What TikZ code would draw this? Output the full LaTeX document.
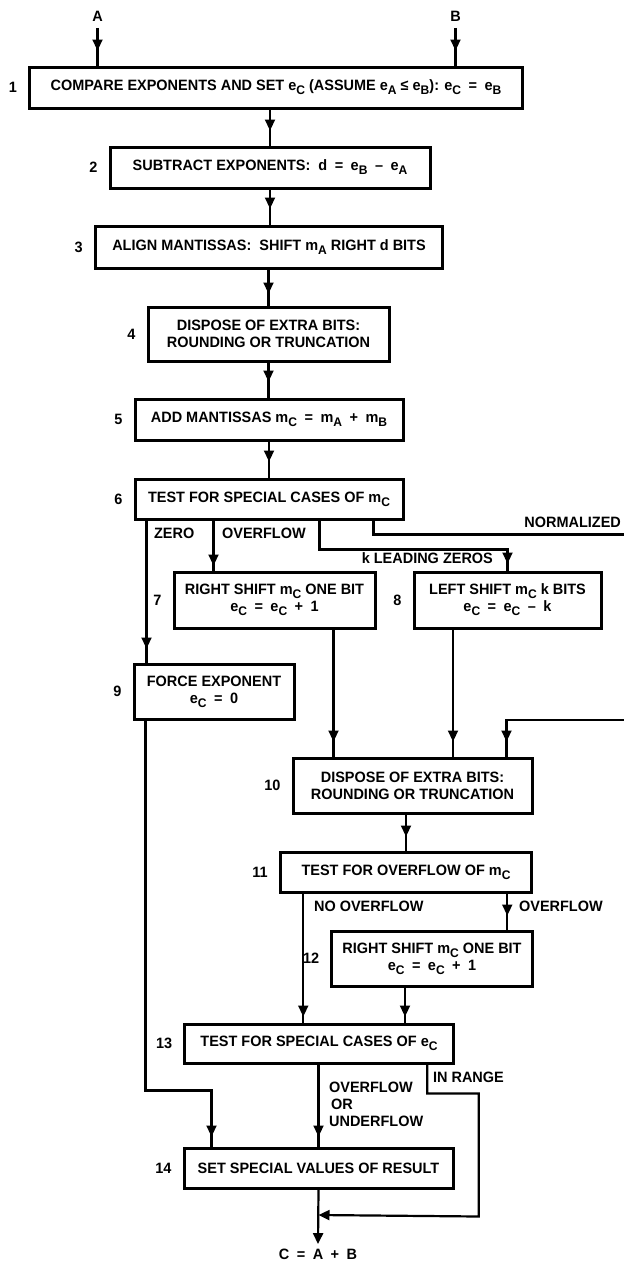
\documentclass[tikz,border=0pt]{standalone}
\usepackage{fontspec}
\setmainfont{Liberation Sans}[FakeStretch=0.965]
\usetikzlibrary{arrows.meta,decorations.markings,positioning}
\def\px{1pt}
\newcommand{\lowx}[1]{\raisebox{-4pt}{\fontsize{12.5}{12.5}\selectfont #1}}
\tikzset{
     stepbox/.style={draw, line width=3pt, align=center, inner sep=0pt},
     num/.style={inner sep=0pt, label distance=10pt},
     tag/.style={inner sep=0pt},
     io/.style={inner sep=5.6pt},
     flow/.style={draw, postaction={decorate},
        decoration={markings, mark=at position -#1 with {\arrow{Triangle[length=11pt,width=10pt]}}}},
     flow/.default=14pt,
     tipend/.style={draw, -{Triangle[length=11pt,width=10pt]}},
}

\begin{document}
\begin{tikzpicture}[x=\px, y=-\px, font=\bfseries\fontsize{15}{17}\selectfont, line width=2.2pt]
\useasboundingbox (0,0) rectangle (624,1262);
\clip (0,0) rectangle (624,1262);

%% inputs
\node[io] (inA) at (97.5,16) {A};
\node[io] (inB) at (455.5,16) {B};

%% steps
\node[stepbox, minimum width=493*\px, minimum height=41*\px, label={[num]left:1}] (s1) at (276,87.5)
   {COMPARE EXPONENTS AND SET e\lowx{C} (ASSUME e\lowx{A} ≤ e\lowx{B}): e\lowx{C}\enspace=\enspace e\lowx{B}};
\node[stepbox, minimum width=320*\px, minimum height=41*\px, label={[num]left:2}] (s2) at (270,167.5)
   {SUBTRACT EXPONENTS:~~d\enspace=\enspace e\lowx{B}\enspace–\enspace e\lowx{A}};
\node[stepbox, minimum width=347.5*\px, minimum height=42*\px, label={[num]left:3}] (s3) at (269,247)
   {ALIGN MANTISSAS:~~SHIFT m\lowx{A} RIGHT d BITS};
\node[stepbox, minimum width=241*\px, minimum height=54*\px, label={[num]left:4}] (s4) at (268.5,334)
   {DISPOSE OF EXTRA BITS:\\ROUNDING OR TRUNCATION};
\node[stepbox, minimum width=268*\px, minimum height=41*\px, label={[num]left:5}] (s5) at (269,419.5)
   {ADD MANTISSAS m\lowx{C}\enspace=\enspace m\lowx{A}\enspace+\enspace m\lowx{B}};
\node[stepbox, minimum width=268*\px, minimum height=40*\px, label={[num]left:6}] (s6) at (269,499)
   {TEST FOR SPECIAL CASES OF m\lowx{C}};
\node[stepbox, minimum width=201*\px, minimum height=56*\px, label={[num]left:7}] (s7) at (274.5,600)
   {RIGHT SHIFT m\lowx{C} ONE BIT\\e\lowx{C}\enspace=\enspace e\lowx{C}\enspace+\enspace 1};
\node[stepbox, minimum width=187*\px, minimum height=56*\px, label={[num]left:8}] (s8) at (507.5,600)
   {LEFT SHIFT m\lowx{C} k BITS\\e\lowx{C}\enspace=\enspace e\lowx{C}\enspace–\enspace k};
\node[stepbox, minimum width=160*\px, minimum height=55*\px, label={[num]left:9}] (s9) at (214,691.5)
   {FORCE EXPONENT\\e\lowx{C}\enspace=\enspace 0};
\node[stepbox, minimum width=239*\px, minimum height=55*\px, label={[num]left:10}] (s10) at (412.5,785.5)
   {DISPOSE OF EXTRA BITS:\\ROUNDING OR TRUNCATION};
\node[stepbox, minimum width=251.5*\px, minimum height=40*\px, label={[num]left:11}] (s11) at (406,872)
   {TEST FOR OVERFLOW OF m\lowx{C}};
\node[stepbox, minimum width=200.5*\px, minimum height=55*\px, label={[num]left:12}] (s12) at (432,958.5)
   {RIGHT SHIFT m\lowx{C} ONE BIT\\e\lowx{C}\enspace=\enspace e\lowx{C}\enspace+\enspace 1};
\node[stepbox, minimum width=268.6*\px, minimum height=39*\px, label={[num]left:13}] (s13) at (319,1043.5)
   {TEST FOR SPECIAL CASES OF e\lowx{C}};
\node[stepbox, minimum width=269*\px, minimum height=40*\px, label={[num]left:14}] (s14) at (318.5,1168)
   {SET SPECIAL VALUES OF RESULT};

\node[io, inner sep=3.5pt] (res) at (318,1254) {C\enspace=\enspace A\enspace+\enspace B};

%% branch labels
\node[tag, anchor=west] (lzero) at (153,533) {ZERO};
\node[tag, anchor=west] (lovf) at (221,533) {OVERFLOW};
\node[tag, anchor=east] (lklz) at (494,558) {k LEADING ZEROS};
\node[tag, anchor=east] (lnorm) at (622,522) {NORMALIZED};
\node[tag, anchor=west] (lnoovf) at (313,906) {NO OVERFLOW};
\node[tag, anchor=west] (lovf2) at (518,906) {OVERFLOW};
\node[tag, anchor=west, align=left] (louf) at (328,1104) {OVERFLOW\\\hspace{2pt}OR\\UNDERFLOW};
\node[tag, anchor=west] (lrange) at (432,1077) {IN RANGE};

\coordinate (offR) at (640,720);

%% main line
\draw[flow=15pt] (inA) -- (inA |- s1.north);
\draw[flow=15pt] (inB) -- (inB |- s1.north);
\draw[flow=15pt] (s2 |- s1.south) -- (s2.north);
\draw[flow=16pt] (s2.south) -- (s2.south |- s3.north);
\draw[flow=12pt] (s4 |- s3.south) -- (s4.north);
\draw[flow=16pt] (s4.south) -- (s4.south |- s5.north);
\draw[flow=16pt] (s5.south) -- (s5.south |- s6.north);

%% cases of m_C
\draw[flow] ([xshift=13pt]s6.south west) -- ([xshift=13pt]s6.south west |- s9.north);
\draw[flow=5pt] ([xshift=80pt]s6.south west) -- ([xshift=80pt]s6.south west |- s7.north);
\draw[flow=7pt] ([xshift=186pt]s6.south west) -- ++(0,29) -| (s8.north);
\draw[flow=15pt] ([xshift=240pt]s6.south west) -- ++(0,14) -| (offR) -| ([xshift=-27pt]s10.north east);
\draw[flow=15pt] ([xshift=59pt]s7.south) -- ([xshift=59pt]s7.south |- s10.north);
\draw[flow=15pt] ([xshift=-54.5pt]s8.south) -- ([xshift=-54.5pt]s8.south |- s10.north);
\draw[flow=10pt] ([xshift=13pt]s9.south west) -- ++(0,370) -| ([xshift=29pt]s14.north west);

%% rounding and overflow
\draw[flow] (s11 |- s10.south) -- (s11.north);
\draw[flow=6pt] ([xshift=24.5pt]s11.south west) -- ([xshift=24.5pt]s11.south west |- s13.north);
\draw[flow] ([xshift=-26pt]s11.south east) -- ([xshift=-26pt]s11.south east |- s12.north);
\draw[flow=6pt] ([xshift=-27pt]s12.south) -- ([xshift=-27pt]s12.south |- s13.north);

%% exponent cases
\draw[flow=10pt] (s14 |- s13.south) -- (s14.north);
\draw[tipend] ([xshift=-27.6pt]s13.south east) -- ++(0,29) -| ++(51.5,123) -- (s14 |- 0,1215);
\draw[tipend] (s14.south) -- (res.north);

\end{tikzpicture}
\end{document}
